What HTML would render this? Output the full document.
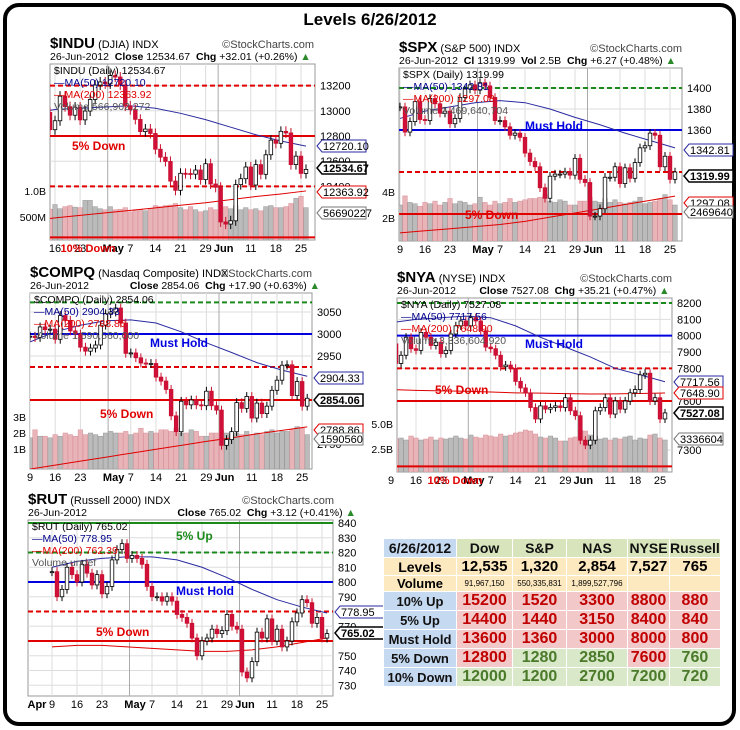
<!DOCTYPE html>
<html><head><meta charset="utf-8">
<style>
body{margin:0;background:#fff;}
#wrap{position:relative;width:740px;height:730px;overflow:hidden;font-family:"Liberation Sans",sans-serif;}
svg text{font-family:"Liberation Sans",sans-serif;}
#tbl{position:absolute;left:383px;top:538px;border-collapse:collapse;font-family:"Liberation Sans",sans-serif;}
#tbl td{border:1px solid #fff;text-align:center;padding:0;font-weight:bold;}
.lab{background:#c5d9f1;font-size:13px;color:#111;}
.hd{background:#d8e4bc;font-size:14px;color:#111;}
.yl{background:#fde9bf;}
.rd{background:#f2c8c8;color:#c00000;font-size:16px;}
.gr{background:#d8e8c8;color:#4a7a2a;font-size:16px;}
</style></head><body>
<div id="wrap">
<svg id="svg" width="740" height="730" xmlns="http://www.w3.org/2000/svg">
<rect x="5" y="5" width="729" height="719" rx="14" fill="#fff" stroke="#000" stroke-width="4"/>
<text x="370" y="25" text-anchor="middle" font-size="17" font-weight="bold">Levels 6/26/2012</text>
</svg>
<table id="tbl">
<tr style="height:19px"><td class="lab" style="width:72px;font-size:14px">6/26/2012</td><td class="hd" style="width:55px">Dow</td><td class="hd" style="width:53px">S&amp;P</td><td class="hd" style="width:60px">NAS</td><td class="hd" style="width:41px">NYSE</td><td class="hd" style="width:44px">Russell</td></tr>
<tr style="height:16px" class="yl"><td class="yl" style="font-size:14px">Levels</td><td class="yl" style="font-size:15px">12,535</td><td class="yl" style="font-size:15px">1,320</td><td class="yl" style="font-size:15px">2,854</td><td class="yl" style="font-size:15px">7,527</td><td class="yl" style="font-size:15px">765</td></tr>
<tr style="height:14px"><td class="yl" style="font-size:13px">Volume</td><td class="yl" style="font-size:8px;font-weight:normal">91,967,150</td><td class="yl" style="font-size:8px;font-weight:normal">550,335,831</td><td class="yl" style="font-size:8px;font-weight:normal">1,899,527,796</td><td class="yl"></td><td class="yl"></td></tr>
<tr style="height:19px"><td class="lab">10% Up</td><td class="rd">15200</td><td class="rd">1520</td><td class="rd">3300</td><td class="rd">8800</td><td class="rd">880</td></tr>
<tr style="height:19px"><td class="lab">5% Up</td><td class="rd">14400</td><td class="rd">1440</td><td class="rd">3150</td><td class="rd">8400</td><td class="rd">840</td></tr>
<tr style="height:19px"><td class="lab">Must Hold</td><td class="rd">13600</td><td class="rd">1360</td><td class="rd">3000</td><td class="rd">8000</td><td class="rd">800</td></tr>
<tr style="height:19px"><td class="lab">5% Down</td><td class="rd">12800</td><td class="gr">1280</td><td class="gr">2850</td><td class="rd">7600</td><td class="gr">760</td></tr>
<tr style="height:19px"><td class="lab">10% Down</td><td class="gr">12000</td><td class="gr">1200</td><td class="gr">2700</td><td class="gr">7200</td><td class="gr">720</td></tr>
</table>
</div>
<script>
const dateLabels = ["9","16","23","May","7","14","21","29","Jun","11","18","25"];
const dateIdx = [0,5,10,16,20,25,30,35,38,44,49,54];
const maIdx = [0,5,10,15,20,25,30,35,40,45,50,55];

const induClose = [12930,12716,12806,12987,12850,12921,13116,13033,12965,13029,12928,12998,13090,13204,13229,13214,13280,13268,13206,13038,13009,12932,12835,12855,12820,12695,12632,12598,12442,12369,12504,12502,12497,12530,12454,12580,12419,12393,12118,12101,12127,12414,12461,12554,12411,12573,12496,12651,12767,12742,12837,12824,12573,12640,12503,12535];
const induMA50 = [12980,13010,13020,13030,13040,13020,12980,12930,12870,12810,12760,12720];
const induMA200 = [12125,12150,12170,12190,12210,12230,12250,12270,12295,12320,12340,12364];
const induVol = [700,760,720,690,650,740,660,700,720,690,680,820,820,700,660,640,700,640,650,680,600,620,640,620,660,720,700,720,730,760,680,640,700,640,600,620,680,640,780,700,660,720,640,680,640,660,620,700,720,680,680,700,760,860,900,680];

const spxClose = [1382,1358,1368,1387,1370,1369,1390,1385,1376,1378,1366,1371,1391,1399,1403,1398,1405,1402,1391,1369,1369,1363,1355,1357,1353,1338,1330,1325,1305,1295,1316,1318,1318,1320,1317,1333,1313,1310,1278,1278,1285,1315,1315,1325,1309,1324,1314,1329,1343,1345,1357,1355,1325,1335,1313,1320];
const spxMA50 = [1371,1378,1382,1386,1388,1386,1380,1372,1365,1357,1350,1343];
const spxMA200 = [1262,1264,1266,1268,1270,1273,1277,1281,1285,1289,1293,1297];
const spxVol = [3.0,3.7,3.2,3.1,2.9,3.2,3.1,3.3,3.0,3.2,3.5,3.1,3.3,3.2,3.0,3.1,3.6,3.2,3.0,3.3,3.1,3.2,3.5,3.2,3.3,3.4,3.5,3.5,3.6,3.8,3.3,3.2,3.4,3.3,3.0,3.0,3.3,3.3,3.6,3.3,3.2,3.5,3.2,3.4,3.2,3.1,3.2,3.3,3.6,3.1,3.2,3.3,3.5,3.8,3.4,3.0];

const compClose = [2995,2992,3016,3010,3011,2988,3042,3031,3007,3000,2970,2961,2968,2975,3020,3046,3050,3059,3025,2956,2957,2946,2934,2933,2933,2902,2893,2874,2814,2778,2847,2839,2850,2839,2837,2870,2837,2827,2747,2760,2778,2844,2831,2858,2809,2843,2819,2836,2872,2895,2929,2930,2860,2892,2836,2854];
const compMA50 = [2982,3005,3020,3030,3032,3025,3005,2980,2958,2935,2918,2904];
const compMA200 = [2693,2702,2711,2720,2729,2738,2747,2756,2764,2773,2781,2789];
const compVol = [1.7,2.2,1.8,1.8,1.7,1.9,1.8,2.0,1.9,1.8,2.2,1.9,2.0,1.9,1.8,2.0,2.1,2.0,2.0,2.1,1.9,2.0,2.3,2.0,2.1,2.0,2.2,2.2,2.1,2.3,2.0,2.0,2.2,2.1,1.8,1.8,2.0,2.0,2.2,2.0,1.9,2.0,1.9,2.1,1.9,2.0,1.9,2.1,2.2,2.0,2.1,2.1,2.2,2.4,2.3,1.9];

const nyaClose = [7950,7830,7880,7990,7920,7910,8020,7990,7940,7960,7890,7910,8010,8060,8090,8060,8110,8090,8030,7930,7920,7880,7810,7820,7800,7720,7680,7650,7560,7490,7570,7550,7560,7570,7560,7620,7540,7510,7360,7330,7360,7540,7560,7620,7520,7600,7550,7600,7650,7670,7760,7770,7600,7620,7490,7527];
const nyaMA50 = [8080,8100,8110,8120,8110,8060,7990,7930,7870,7800,7760,7718];
const nyaMA200 = [7670,7665,7662,7660,7655,7650,7648,7645,7643,7644,7646,7649];
const nyaVol = [3.6,3.5,3.6,3.4,3.8,3.6,3.4,3.5,3.7,3.4,3.6,3.5,3.6,3.8,3.6,3.5,3.9,3.7,3.6,3.9,3.8,3.7,4.0,3.8,3.9,4.1,4.2,4.4,4.3,4.0,3.7,3.6,3.8,3.6,3.3,3.3,3.6,3.7,4.4,4.3,3.9,3.8,3.5,3.6,3.4,3.6,3.5,3.7,3.8,3.4,3.6,3.5,3.9,4.0,3.6,3.4];

const rutClose = [807,790,795,810,805,800,812,806,798,805,792,797,815,822,826,816,818,816,812,797,790,790,787,790,787,778,776,772,762,750,760,762,768,765,767,778,770,768,739,735,746,766,762,775,760,768,756,760,773,779,788,786,772,776,762,765];
const rutMA50 = [810,814,816,817,817,815,810,803,795,788,783,779];
const rutMA200 = [756,757,757,756,755,754,753,753,754,756,759,762];

const svg = document.getElementById('svg');
const NS = 'http://www.w3.org/2000/svg';
function mk(tag, attrs, parent){const e=document.createElementNS(NS,tag);for(const k in attrs)e.setAttribute(k,attrs[k]);(parent||svg).appendChild(e);return e;}
function txt(x,y,s,size,fill,weight,anchor,parent){const t=mk('text',{x:x,y:y,'font-size':size,fill:fill||'#000','font-weight':weight||'normal','text-anchor':anchor||'start'},parent);t.textContent=s;return t;}

function drawChart(c){
  const g=mk('g',{});
  
  
  const X=i=>c.x0+i*c.dx;
  const Y=v=>c.y1+(c.v1-v)*(c.y2-c.y1)/(c.v1-c.v2);
  const VY=v=>c.vy1+(c.vv1-v)*(c.vy2-c.vy1)/(c.vv1-c.vv2);
  const clipId='clip'+c.name;
  const cp=mk('clipPath',{id:clipId},g);
  mk('rect',{x:c.L,y:c.T,width:c.R-c.L,height:c.B-c.T},cp);
  const h1=txt(c.L,c.T-16,'',15,'#000','bold','start',g);
  h1.innerHTML='<tspan>'+c.sym+'</tspan><tspan font-size="11" font-weight="normal"> '+c.full+' INDX</tspan>';
  
  txt(c.hdrR,c.T-16,'\u00A9StockCharts.com',11,'#444','normal','end',g);
  const h2=txt(c.L,c.T-4,'',10.5,'#000','normal','start',g);
  h2.innerHTML=c.line2;
  mk('rect',{x:c.L,y:c.T,width:c.R-c.L,height:c.B-c.T,fill:'#fff',stroke:'#999','stroke-width':1},g);
  const pg=mk('g',{'clip-path':'url(#'+clipId+')'},g);
  c.ticks.forEach(v=>{mk('line',{x1:c.L,x2:c.R,y1:Y(v),y2:Y(v),stroke:'#ddd'},pg);});
  dateIdx.forEach((d,k)=>{const xx=X(d)-(dateLabels[k]==='May'||dateLabels[k]==='Jun'?c.dx/2:0);
    mk('line',{x1:xx,x2:xx,y1:c.T,y2:c.B,stroke:(dateLabels[k]==='May'||dateLabels[k]==='Jun')?'#aaa':'#ddd'},pg);});
  if(c.vol){c.vol.forEach((v,i)=>{const o=i?c.close[i-1]:c.close[i];const dn=c.close[i]<o;
    const r=mk('rect',{x:X(i)-2.3,y:VY(v),width:4.6,height:c.B-VY(v),fill:dn?'#e8b4b8':'#bbb',stroke:dn?'#d9909a':'#999','stroke-width':0.5},pg);
    
    });}
  const lg=[[c.sym+' (Daily) '+c.last,'#000'],['\u2014MA(50) '+c.m50,'#00008b'],['\u2014MA(200) '+c.m200,'#e00000'],[c.volTxt,'#555']];
  lg.forEach((l,k)=>txt(c.L+4,c.T+10+k*12,l[0],10.5,l[1],'normal','start',g));
  c.levels.forEach(lv=>{const a={x1:c.L,x2:c.R,y1:Y(lv.v),y2:Y(lv.v),stroke:lv.c,'stroke-width':2};if(lv.d)a['stroke-dasharray']='5,3';
    const ln=mk('line',a,pg);
    
    });
  c.notes.forEach(n=>txt(n[0],n[1],n[2],12,n[3],'bold','start',g));
  const pts=(arr)=>arr.map((v,k)=>X(maIdx[k])+','+Y(v)).join(' ');
  const m1=mk('polyline',{points:pts(c.ma50),fill:'none',stroke:'#2a2aa0','stroke-width':1},pg);
  
  
  const m2=mk('polyline',{points:pts(c.ma200),fill:'none',stroke:'#e00000','stroke-width':1},pg);
  
  
  c.close.forEach((cl,i)=>{const o=i?c.close[i-1]:cl;const hi=Math.max(o,cl),lo=Math.min(o,cl);const dn=cl<o;
    const w=c.wick;
    mk('line',{x1:X(i),x2:X(i),y1:Y(hi+w),y2:Y(lo-w),stroke:dn?'#c8102e':'#000','stroke-width':1},pg);
    const r=mk('rect',{x:X(i)-1.8,y:Y(hi),width:3.6,height:Math.max(1,Y(lo)-Y(hi)),fill:dn?'#d0103a':'#fff',stroke:dn?'#c8102e':'#000','stroke-width':0.8},pg);
    
    });
  c.ticks.forEach(v=>txt(c.R+5,Y(v)+4,String(v),11,'#000','normal','start',g));
  if(c.vticks)c.vticks.forEach(t=>txt(c.L-4,VY(t[0])+4,t[1],10.5,'#000','normal','end',g));
  dateIdx.forEach((d,k)=>{const lab=dateLabels[k];const bold=(lab==='May'||lab==='Jun');
    const xx=X(d)+(bold?3:0);if(xx>c.L-6&&xx<c.R+4)txt(xx,c.B+12,lab,11,'#000',bold?'bold':'normal','middle',g);});
  if(c.extraDates)c.extraDates.forEach(e=>txt(e[0],c.B+12,e[1],11,'#000','bold','middle',g));
  c.foot&&txt(c.foot[0],c.B+12,c.foot[1],11,'#e00000','bold','middle',g);
  c.boxes.forEach(b=>{const y=b[0];const w=b[4]?46:44;
    mk('path',{d:`M${c.R+2},${y} l5,-6 h${w} v12 h-${w} z`,fill:'#fff',stroke:b[2],'stroke-width':b[3]?1.5:1},g);
    txt(c.R+8,y+4,b[1],11,'#000',b[3]?'bold':'normal','start',g);});
}

const charts=[
 {name:'indu',sym:'$INDU',full:'(DJIA)',line2:'26-Jun-2012 &#160;<tspan font-weight="bold">Close</tspan> 12534.67 &#160;<tspan font-weight="bold">Chg</tspan> +32.01 (+0.26%) <tspan fill="#2a8a2a">\u25B2</tspan>',hdrR:314,
  L:50,R:315,T:64,B:240,x0:55-5*5.02,dx:5.02,v1:13200,y1:85.6,v2:12800,y2:136,close:induClose,ma50:induMA50,ma200:induMA200,wick:40,
  vol:induVol,vv1:1000,vy1:191,vv2:500,vy2:217,vticks:[[1000,'1.0B'],[500,'500M']],
  last:'12534.67',m50:'12720.10',m200:'12363.92',volTxt:'Volume 566,902,272',
  levels:[{v:13200,c:'#e00000',d:1},{v:12800,c:'#e00000'},{v:12400,c:'#e00000',d:1},{v:11995,c:'#e00000'}],
  notes:[[72,150,'5% Down','#e00000']],ticks:[13200,13000,12800,12600,12400],
  boxes:[[146,'12720.10','#2a2aa0'],[168,'12534.67','#000',1],[192,'12363.92','#e00000'],[213,'56690227','#777']],
  foot:[88,'10% Down']},
 {name:'spx',sym:'$SPX',full:'(S&amp;P 500)',line2:'26-Jun-2012 &#160;<tspan font-weight="bold">Cl</tspan> 1319.99 &#160;<tspan font-weight="bold">Vol</tspan> 2.5B &#160;<tspan font-weight="bold">Chg</tspan> +6.27 (+0.48%) <tspan fill="#2a8a2a">\u25B2</tspan>',hdrR:682,
  L:399,R:682,T:68,B:241,x0:400,dx:5.0,v1:1400,y1:88,v2:1360,y2:130,close:spxClose,ma50:spxMA50,ma200:spxMA200,wick:4,
  vol:spxVol,vv1:4,vy1:192,vv2:2,vy2:218,vticks:[[4,'4B'],[2,'2B']],
  last:'1319.99',m50:'1342.81',m200:'1297.08',volTxt:'Volume 2,469,640,704',
  levels:[{v:1400,c:'#1a8a1a',d:1},{v:1360,c:'#0000e0'},{v:1320,c:'#e00000',d:1},{v:1280,c:'#e00000'}],
  notes:[[525,130,'Must Hold','#0000e0'],[465,219,'5% Down','#e00000']],ticks:[1400,1380,1360,1280],
  boxes:[[150,'1342.81','#2a2aa0'],[176,'1319.99','#000',1],[203,'1297.08','#e00000'],[212,'2469640','#777']]},
 {name:'compq',sym:'$COMPQ',full:'(Nasdaq Composite)',line2:'26-Jun-2012 &#160;&#160;&#160;&#160;&#160;&#160;&#160;&#160;&#160;&#160;&#160;&#160;&#160;<tspan font-weight="bold">Close</tspan> 2854.06 &#160;<tspan font-weight="bold">Chg</tspan> +17.90 (+0.63%) <tspan fill="#2a8a2a">\u25B2</tspan>',hdrR:312,
  L:30,R:312,T:293,B:469,x0:30,dx:5.04,v1:3050,y1:312,v2:2950,y2:356,close:compClose,ma50:compMA50,ma200:compMA200,wick:10,
  vol:compVol,vv1:3,vy1:417,vv2:1,vy2:449,vticks:[[3,'3B'],[2,'2B'],[1,'1B']],
  last:'2854.06',m50:'2904.33',m200:'2788.86',volTxt:'Volume 1,590,560,000',
  levels:[{v:3072,c:'#1a8a1a',d:1},{v:3000,c:'#0000e0'},{v:2925,c:'#e00000',d:1},{v:2850,c:'#e00000'}],
  notes:[[150,347,'Must Hold','#0000e0'],[100,418,'5% Down','#e00000']],ticks:[3050,3000,2950,2750],
  boxes:[[378,'2904.33','#2a2aa0'],[400,'2854.06','#000',1],[430,'2788.86','#e00000'],[439,'1590560','#777']]},
 {name:'nya',sym:'$NYA',full:'(NYSE)',line2:'26-Jun-2012 &#160;&#160;&#160;&#160;&#160;&#160;&#160;<tspan font-weight="bold">Close</tspan> 7527.08 &#160;<tspan font-weight="bold">Chg</tspan> +35.21 (+0.47%) <tspan fill="#2a8a2a">\u25B2</tspan>',hdrR:672,
  L:397,R:672,T:298,B:472,x0:416-5*4.98,dx:4.98,v1:8200,y1:303,v2:7600,y2:401,close:nyaClose,ma50:nyaMA50,ma200:nyaMA200,wick:25,
  vol:nyaVol,vv1:5,vy1:424,vv2:2.5,vy2:449,vticks:[[5,'5.0B'],[2.5,'2.5B']],
  last:'7527.08',m50:'7717.56',m200:'7648.90',volTxt:'Volume 3,336,604,920',
  levels:[{v:8200,c:'#1a8a1a',d:1},{v:8000,c:'#0000e0'},{v:7800,c:'#e00000',d:1},{v:7600,c:'#e00000'},{v:7200,c:'#e00000'}],
  notes:[[525,348,'Must Hold','#0000e0'],[435,394,'5% Down','#e00000']],ticks:[8200,8100,8000,7900,7800,7600,7300],
  boxes:[[382,'7717.56','#2a2aa0'],[393,'7648.90','#e00000'],[413,'7527.08','#000',1],[439,'3336604','#777']],
  foot:[455,'10% Down']},
 {name:'rut',sym:'$RUT',full:'(Russell 2000)',line2:'26-Jun-2012 &#160;&#160;&#160;&#160;&#160;&#160;&#160;&#160;&#160;&#160;&#160;&#160;&#160;&#160;&#160;&#160;&#160;&#160;&#160;&#160;&#160;&#160;&#160;&#160;&#160;&#160;&#160;&#160;&#160;&#160;<tspan font-weight="bold">Close</tspan> 765.02 &#160;<tspan font-weight="bold">Chg</tspan> +3.12 (+0.41%) <tspan fill="#2a8a2a">\u25B2</tspan>',hdrR:334,
  L:28,R:333,T:520,B:696,x0:52,dx:5.0,v1:840,y1:523,v2:760,y2:641,close:rutClose,ma50:rutMA50,ma200:rutMA200,wick:3,
  vol:null,last:'765.02',m50:'778.95',m200:'762.39',volTxt:'Volume undef',
  levels:[{v:840,c:'#1a8a1a'},{v:820,c:'#1a8a1a',d:1},{v:800,c:'#0000e0'},{v:780,c:'#e00000',d:1},{v:760,c:'#e00000'}],
  notes:[[176,540,'5% Up','#1a8a1a'],[176,595,'Must Hold','#0000e0'],[96,636,'5% Down','#e00000']],ticks:[840,830,820,810,800,790,770,750,740,730],
  boxes:[[612,'778.95','#2a2aa0'],[633,'765.02','#000',1]],
  extraDates:[[37,'Apr']]}
];
charts.forEach(drawChart);
</script>
</body></html>
